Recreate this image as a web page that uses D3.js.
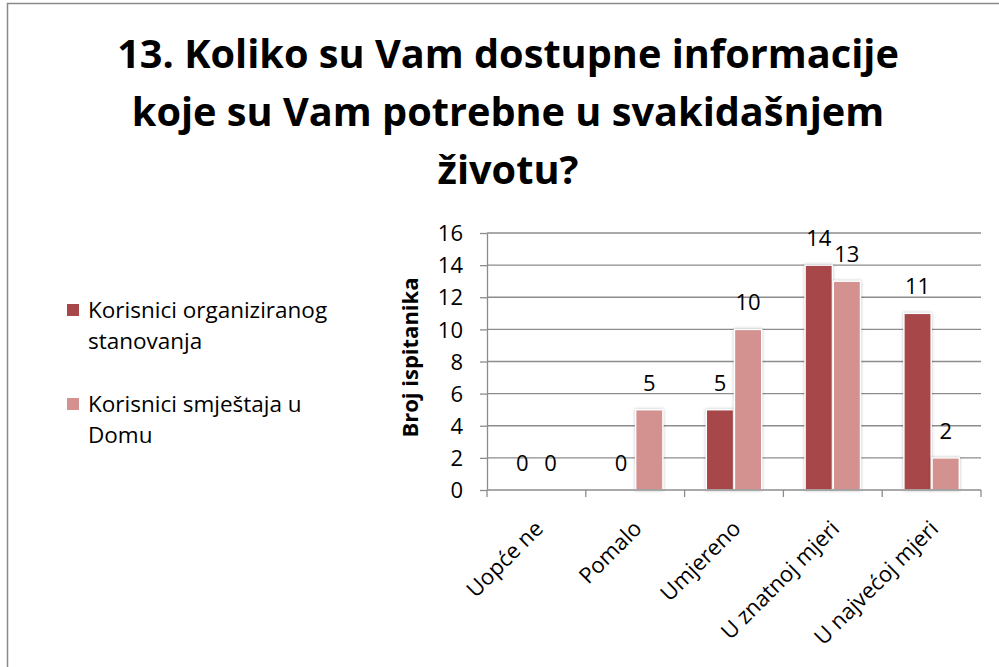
<!DOCTYPE html>
<html>
<head>
<meta charset="utf-8">
<script src="https://cdn.jsdelivr.net/npm/d3@7"></script>
<style>
  body { margin: 0; background: #fff; }
  svg { display: block; font-family: "Open Sans", "Noto Sans", sans-serif; }
</style>
</head>
<body>
<svg id="chart" width="999" height="667"></svg>
<script>
const titleLines = ["13. Koliko su Vam dostupne informacije", "koje su Vam potrebne u svakidašnjem", "životu?"];
const categories = ["Uopće ne", "Pomalo", "Umjereno", "U znatnoj mjeri", "U najvećoj mjeri"];
const seriesNames = [["Korisnici organiziranog", "stanovanja"], ["Korisnici smještaja u", "Domu"]];
const organizirano = [0, 0, 5, 14, 11];
const dom = [0, 5, 10, 13, 2];
const yTicks = [0, 2, 4, 6, 8, 10, 12, 14, 16];
const yTitle = "Broj ispitanika";

const colors = ["#a84749", "#d39190"];
const grid = {left: 487, right: 981, top: 233, bottom: 490};
const fs = 22;

const svg = d3.select("#chart");

// outer frame (only top and left edges visible in the picture)
svg.append("path")
  .attr("d", "M7.5,667V3.5H999")
  .attr("fill", "none")
  .attr("stroke", "#8a8a8a")
  .attr("stroke-width", 1.5);

svg.append("g")
  .selectAll("text")
  .data(titleLines)
  .join("text")
    .attr("x", 508)
    .attr("y", (d, i) => 68 + i * 58)
    .attr("text-anchor", "middle")
    .attr("font-size", 39.7)
    .attr("font-weight", "bold")
    .attr("fill", "#000")
    .text(d => d);

const x = d3.scaleBand().domain(categories).range([grid.left, grid.right]);
const xs = d3.scaleBand().domain([0, 1]).range([0, x.bandwidth()]).paddingInner(0.03).paddingOuter(0.77);
const y = d3.scaleLinear().domain([0, 16]).range([grid.bottom, grid.top]);

// gridlines
svg.append("g")
  .selectAll("line")
  .data(yTicks.slice(1))
  .join("line")
    .attr("x1", grid.left).attr("x2", grid.right)
    .attr("y1", d => y(d)).attr("y2", d => y(d))
    .attr("stroke", "#8c8c8c")
    .attr("stroke-width", 1.3);

// y axis
const yAxis = svg.append("g")
  .attr("transform", `translate(${grid.left},0)`)
  .call(d3.axisLeft(y).tickValues(yTicks).tickSize(7).tickSizeOuter(0).tickPadding(17));
yAxis.select(".domain").attr("stroke", "#8c8c8c").attr("stroke-width", 1.3);
yAxis.selectAll(".tick line").attr("stroke", "#8c8c8c").attr("stroke-width", 1.3);
yAxis.selectAll(".tick text")
  .attr("font-size", fs)
  .attr("font-family", "Open Sans, sans-serif")
  .attr("fill", "#000")
  .attr("dy", "0.35em");

svg.append("text")
  .attr("transform", `translate(418,${(grid.top + grid.bottom) / 2 - 4}) rotate(-90)`)
  .attr("text-anchor", "middle")
  .attr("font-size", 22)
  .attr("font-weight", "bold")
  .text(yTitle);

// bars
const series = [organizirano, dom];
const groups = svg.append("g")
  .selectAll("g")
  .data(series)
  .join("g")
    .attr("fill", (d, i) => colors[i]);

groups.selectAll("rect")
  .data((d, s) => d.map((v, i) => ({v, c: categories[i], s})))
  .join("rect")
    .attr("x", d => x(d.c) + xs(d.s))
    .attr("y", d => y(d.v))
    .attr("width", xs.bandwidth())
    .attr("height", d => y(0) - y(d.v))
    .attr("stroke", "#fff")
    .attr("stroke-width", 1.5)
    .style("filter", "drop-shadow(0px 0px 1.5px rgba(0,0,0,0.25))");

groups.selectAll("text")
  .data((d, s) => d.map((v, i) => ({v, c: categories[i], s})))
  .join("text")
    .attr("x", d => x(d.c) + xs(d.s) + xs.bandwidth() / 2)
    .attr("y", d => y(d.v) - 19)
    .attr("text-anchor", "middle")
    .attr("font-size", fs)
    .attr("fill", "#000")
    .text(d => d.v);

// x axis
const xAxis = svg.append("g")
  .attr("transform", `translate(0,${grid.bottom})`)
  .call(d3.axisBottom(x).tickSize(0).tickPadding(0));
xAxis.select(".domain").remove();
xAxis.append("line")
  .attr("x1", grid.left).attr("x2", grid.right)
  .attr("stroke", "#8c8c8c").attr("stroke-width", 1.3);
xAxis.selectAll(".boundary")
  .data(d3.range(categories.length + 1))
  .join("line")
    .attr("class", "boundary")
    .attr("x1", i => grid.left + i * x.step())
    .attr("x2", i => grid.left + i * x.step())
    .attr("y1", 0).attr("y2", 7)
    .attr("stroke", "#8c8c8c").attr("stroke-width", 1.3);
xAxis.selectAll(".tick text")
  .attr("font-size", fs)
  .attr("font-family", "Open Sans, sans-serif")
  .attr("fill", "#000")
  .attr("text-anchor", "end")
  .attr("dy", 0)
  .attr("transform", "translate(8,40) rotate(-45)");

// legend
const legend = svg.append("g")
  .selectAll("g")
  .data(seriesNames)
  .join("g")
    .attr("transform", (d, i) => `translate(67,${318 + i * 94})`);
legend.append("rect")
  .attr("y", -14)
  .attr("width", 12).attr("height", 12)
  .attr("fill", (d, i) => colors[i]);
legend.append("text")
  .attr("font-size", 22.5)
  .attr("fill", "#000")
  .selectAll("tspan")
  .data(d => d)
  .join("tspan")
    .attr("x", 21)
    .attr("y", (d, i) => i * 31)
    .text(d => d);
</script>
</body>
</html>
